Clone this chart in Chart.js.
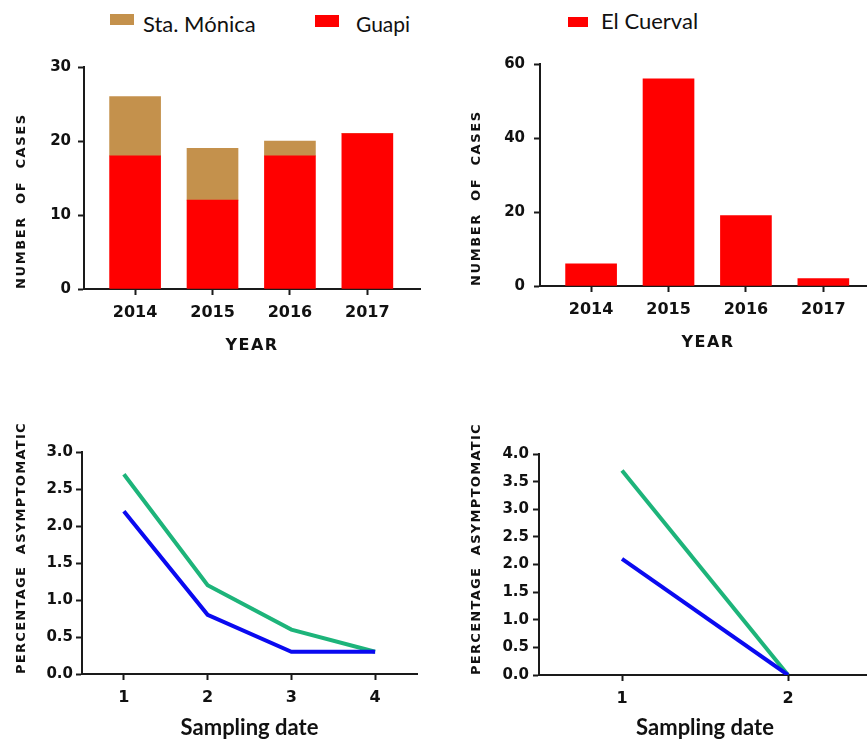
<!DOCTYPE html>
<html>
<head>
<meta charset="utf-8">
<script src="https://cdn.jsdelivr.net/npm/chart.js@4.4.1/dist/chart.umd.min.js"></script>
<style>
  html, body { margin: 0; padding: 0; background: #fff; overflow: hidden; }
  body { width: 867px; height: 742px; position: relative; }
  canvas { position: absolute; }
  .swatch { position: absolute; }
  .legend-text { position: absolute; font-family: Lato, sans-serif; font-size: 22px; line-height: 22px; color: #111; white-space: nowrap; }
</style>
</head>
<body>
  <div class="swatch" style="left:110px;top:14px;width:24px;height:11px;background:#c4914c"></div>
  <div class="legend-text" style="left:143px;top:13px">Sta. Mónica</div>
  <div class="swatch" style="left:315px;top:15px;width:24px;height:12px;background:#ff0000"></div>
  <div class="legend-text" style="left:356px;top:13px;font-size:21px">Guapi</div>
  <div class="swatch" style="left:568px;top:17px;width:20px;height:10px;background:#ff0000"></div>
  <div class="legend-text" style="left:601px;top:10px">El Cuerval</div>

  <canvas id="casesSouth" width="440" height="370" style="left:0;top:0"></canvas>
  <canvas id="casesCuerval" width="440" height="370" style="left:440px;top:0"></canvas>
  <canvas id="asymLeft" width="440" height="342" style="left:0;top:400px"></canvas>
  <canvas id="asymRight" width="440" height="342" style="left:440px;top:400px"></canvas>

<script>
window.addEventListener("DOMContentLoaded", () => {
  // data
  const years = [2014, 2015, 2016, 2017];
  const guapiCases = [18, 12, 18, 21];
  const staMonicaCases = [8, 7, 2, 0];
  const cuervalCases = [6, 56, 19, 2];

  const datesLeft = [1, 2, 3, 4];
  const greenLeft = [2.7, 1.2, 0.6, 0.3];
  const blueLeft = [2.2, 0.8, 0.3, 0.3];

  const datesRight = [1, 2];
  const greenRight = [3.7, 0];
  const blueRight = [2.1, 0];

  const RED = "#ff0000";
  const TAN = "#c4914c";
  const GREEN = "#1db47a";
  const BLUE = "#0a0af0";
  const INK = "#111";
  const AXIS = "#1a1a1a";

  const heavy = "'DejaVu Sans', sans-serif";

  Chart.defaults.font.family = heavy;

  // canvas has letterSpacing; chart.js has no option for it, so wrap drawTitle
  const spacedTitles = {
    id: "spacedTitles",
    beforeDraw(chart, args, opts) {
      Object.values(chart.scales).forEach(scale => {
        if (scale._spaced) return;
        const draw = scale.drawTitle;
        scale.drawTitle = function () {
          const ctx = this.ctx;
          ctx.save();
          ctx.letterSpacing = (opts[this.id] || 0) + "px";
          draw.call(this);
          ctx.restore();
        };
        scale._spaced = true;
      });
    }
  };

  const marks = {
    offset: false,
    drawOnChartArea: false,
    drawTicks: true,
    tickLength: 6,
    tickWidth: 2,
    tickColor: AXIS
  };
  const border = { color: AXIS, width: 2 };

  const xAxis = (min, max, values, height, fontSize, title) => ({
    type: "linear",
    offset: false,
    min: min,
    max: max,
    afterBuildTicks: axis => { axis.ticks = values.map(v => ({ value: v })); },
    afterFit: axis => { axis.height = height; },
    grid: marks,
    border: border,
    ticks: { font: { family: heavy, weight: "bold", size: fontSize }, color: INK, padding: 8, callback: v => String(v) },
    title: title
  });

  const yAxis = (max, step, width, pad, digits, titlePad, text) => ({
    min: 0,
    max: max,
    afterFit: axis => { axis.width = width; },
    grid: marks,
    border: border,
    ticks: {
      stepSize: step,
      font: { family: heavy, weight: "bold", size: 15 },
      color: INK,
      padding: pad,
      callback: v => v.toFixed(digits)
    },
    title: {
      display: true,
      text: text,
      align: "start",
      color: INK,
      font: { family: heavy, weight: "bold", size: 13 },
      padding: { top: titlePad, bottom: 0 }
    }
  });

  const yearTitle = padBottom => ({
    display: true,
    text: "YEAR",
    color: INK,
    font: { family: heavy, weight: "bold", size: 16 },
    padding: { top: 0, bottom: padBottom }
  });

  const dateTitle = {
    display: true,
    text: "Sampling date",
    color: INK,
    font: { family: "Lato, sans-serif", weight: "bold", size: 22 },
    padding: { top: 0, bottom: 1 }
  };

  const common = {
    responsive: false,
    animation: false,
    events: []
  };

  // Guapi + Sta. Mónica, stacked as floating bars
  new Chart(document.getElementById("casesSouth"), {
    type: "bar",
    data: {
      datasets: [
        {
          label: "Guapi",
          data: years.map((yr, i) => ({ x: yr, y: guapiCases[i] })),
          backgroundColor: RED
        },
        {
          label: "Sta. Mónica",
          data: years.map((yr, i) => ({ x: yr, y: [guapiCases[i], guapiCases[i] + staMonicaCases[i]] })),
          backgroundColor: TAN
        }
      ]
    },
    options: {
      ...common,
      layout: { padding: { top: 67, right: 20, bottom: 0, left: 0 } },
      datasets: { bar: { barThickness: 51, grouped: false, borderWidth: 0 } },
      plugins: { legend: { display: false }, tooltip: { enabled: false }, spacedTitles: { x: 1.5, y: 1.6 } },
      scales: {
        x: xAxis(2013.34, 2017.68, years, 81, 16, yearTitle(15)),
        y: yAxis(30, 10, 84, 7, 0, 14, "NUMBER  OF  CASES")
      }
    },
    plugins: [spacedTitles]
  });

  new Chart(document.getElementById("casesCuerval"), {
    type: "bar",
    data: {
      datasets: [{
        label: "El Cuerval",
        data: years.map((yr, i) => ({ x: yr, y: cuervalCases[i] })),
        backgroundColor: RED
      }]
    },
    options: {
      ...common,
      layout: { padding: { top: 64, right: 4, bottom: 0, left: 0 } },
      datasets: { bar: { barThickness: 51, grouped: false, borderWidth: 0 } },
      plugins: { legend: { display: false }, tooltip: { enabled: false }, spacedTitles: { x: 1.5, y: 1.6 } },
      scales: {
        x: xAxis(2013.34, 2017.68, years, 84, 16, yearTitle(18)),
        y: yAxis(60, 20, 100, 9, 0, 29, "NUMBER  OF  CASES")
      }
    },
    plugins: [spacedTitles]
  });

  const lineSet = (label, dates, values, color) => ({
    label: label,
    data: dates.map((d, i) => ({ x: d, y: values[i] })),
    borderColor: color,
    borderWidth: 4,
    pointRadius: 0,
    tension: 0,
    fill: false
  });

  new Chart(document.getElementById("asymLeft"), {
    type: "line",
    data: {
      datasets: [
        lineSet("blue", datesLeft, blueLeft, BLUE),
        lineSet("green", datesLeft, greenLeft, GREEN)
      ]
    },
    options: {
      ...common,
      layout: { padding: { top: 52, right: 23, bottom: 0, left: 0 } },
      plugins: { legend: { display: false }, tooltip: { enabled: false }, spacedTitles: { y: 1.3 } },
      scales: {
        x: xAxis(0.5, 4.5, datesLeft, 68, 16, dateTitle),
        y: yAxis(3, 0.5, 82, 3, 1, 14, "PERCENTAGE  ASYMPTOMATIC")
      }
    },
    plugins: [spacedTitles]
  });

  new Chart(document.getElementById("asymRight"), {
    type: "line",
    data: {
      datasets: [
        lineSet("blue", datesRight, blueRight, BLUE),
        lineSet("green", datesRight, greenRight, GREEN)
      ]
    },
    options: {
      ...common,
      layout: { padding: { top: 54, right: 9, bottom: 0, left: 0 } },
      plugins: { legend: { display: false }, tooltip: { enabled: false }, spacedTitles: { y: 1.3 } },
      scales: {
        x: xAxis(0.5, 2.5, datesRight, 67, 16, dateTitle),
        y: yAxis(4, 0.5, 99, 4, 1, 29, "PERCENTAGE  ASYMPTOMATIC")
      }
    },
    plugins: [spacedTitles]
  });
});
</script>
</body>
</html>
